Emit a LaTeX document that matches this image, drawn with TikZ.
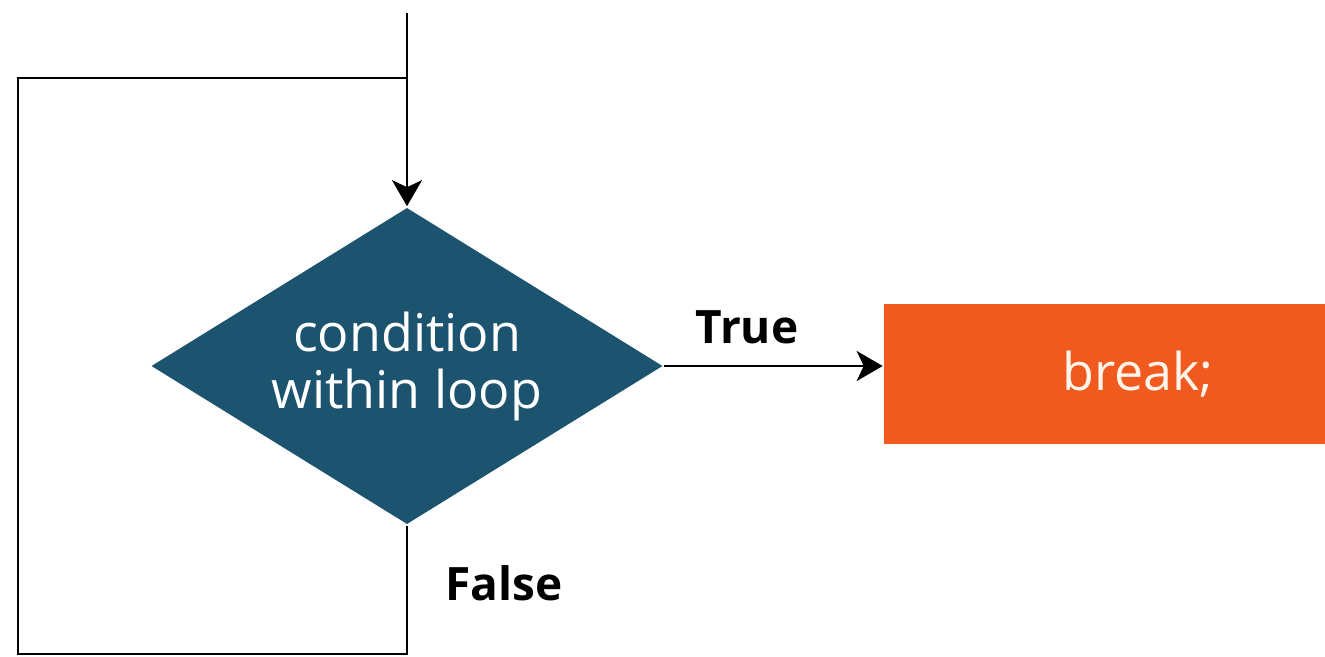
\documentclass[tikz,border=0pt]{standalone}
\usepackage{fontspec}
\setsansfont{Open Sans}
\usepackage{tikz}
\usetikzlibrary{arrows.meta, positioning, shapes}
\definecolor{condblue}{RGB}{28,84,112}
\definecolor{breakorange}{RGB}{240,90,30}
\tikzset{
        >={Stealth[length=26pt,width=30pt,inset=7pt]}, % big notched heads
        every path/.style={line width=2.6pt}, % thick black lines
    }
\tikzstyle{decision}=[diamond,fill=condblue,draw=none,text=white,minimum width=512pt,minimum height=317pt,inner sep=0pt,aspect=1.62,align=center,font=\sffamily\fontsize{52}{57}\selectfont]
\tikzstyle{action}=[rectangle,fill=breakorange,draw=none,text=white!92!orange,minimum width=508pt,minimum height=140pt,font=\sffamily\fontsize{52}{60}\selectfont]
\tikzstyle{edgelabel}=[font=\sffamily\bfseries\fontsize{46}{52}\selectfont]

\begin{document}
\begin{tikzpicture}[x=1pt,y=-1pt]
    \useasboundingbox (0,0) rectangle (1325,656);
    \node[decision] (cond) at (407,366) {condition\\within loop};
    \node[action] (brk) at (1138,374) {break;};
    \coordinate (entry) at (407,13);
    \coordinate (join) at (407,78);
    \coordinate (botright) at (407,654);
    \coordinate (botleft) at (18,654);
    \coordinate (topleft) at (18,78);
    \draw[->] (entry) -- (cond.north);
    \draw[->] (cond.east) -- (cond.east -| brk.west);
    \draw (cond.south) -- (botright) -- (botleft) -- (topleft) -- (join);
    \node[edgelabel] (truelbl) at (747,327) {True};
    \node[edgelabel] (falselbl) at (504,583) {False};
\end{tikzpicture}
\end{document}
